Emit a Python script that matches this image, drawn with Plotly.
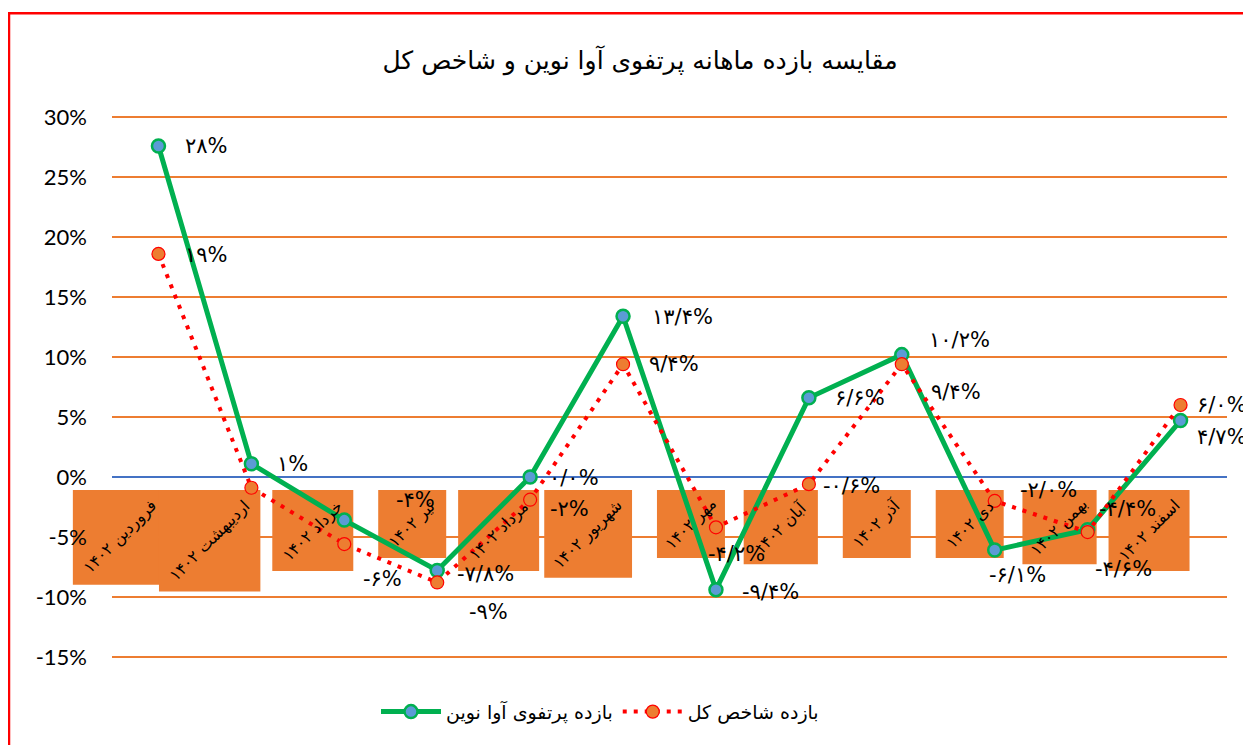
import plotly.graph_objects as go

# ---------------- data ----------------
months = ["فروردین ۱۴۰۲", "اردیبهشت ۱۴۰۲", "خرداد ۱۴۰۲", "تیر ۱۴۰۲", "مرداد ۱۴۰۲",
          "شهریور ۱۴۰۲", "مهر ۱۴۰۲", "آبان ۱۴۰۲", "آذر ۱۴۰۲", "دی ۱۴۰۲",
          "بهمن ۱۴۰۲", "اسفند ۱۴۰۲"]
portfolio = [27.6, 1.1, -3.6, -7.8, 0.0, 13.4, -9.4, 6.6, 10.2, -6.1, -4.4, 4.7]
index_ret = [18.6, -0.9, -5.6, -8.8, -1.9, 9.4, -4.2, -0.6, 9.4, -2.0, -4.6, 6.0]
portfolio_labels = ["۲۸%", "۱%", "-۴%", "-۷/۸%", "۰/۰%", "۱۳/۴%", "-۹/۴%",
                    "۶/۶%", "۱۰/۲%", "-۶/۱%", "-۴/۴%", "۴/۷%"]
index_labels = ["۱۹%", "", "-۶%", "-۹%", "-۲%", "۹/۴%", "-۴/۲%",
                "-۰/۶%", "۹/۴%", "-۲/۰%", "-۴/۶%", "۶/۰%"]
y_ticks = [-15, -10, -5, 0, 5, 10, 15, 20, 25, 30]
title_text = "مقایسه بازده ماهانه پرتفوی آوا نوین و شاخص کل"
portfolio_name = "بازده پرتفوی آوا نوین"
index_name = "بازده شاخص کل"

# ---------------- style / layout ----------------
FA_FONT = "DejaVu Sans"
NUM_FONT = "Lato"
ORANGE = "#ED7D31"
GREEN = "#00B050"
BLUE = "#5B9BD5"
RED = "#FF0000"

W, H = 1251, 745
OFF = 8                     # page offset of the plot div
PX_PER_PCT = 12.0
PAD = 0.1                   # small range padding so edge gridlines are drawn
Y_LO, Y_HI = -15 - PAD, 30 + PAD
PL, PR = 112, 1227
PT = 117 - PAD * PX_PER_PCT
PB = 657 + PAD * PX_PER_PCT
PW, PH = PR - PL, PB - PT

# pixel offsets of the data labels relative to their points (dx, dy up)
portfolio_label_off = [(25, 0), (24, 0), (50, 20), (18, -4), (17, -1), (27, -1),
                       (24, -2), (24, 0), (25, 15), (-8, -25), (9, 21), (14, -16)]
index_label_off = [(25, -1), (0, 0), (17, -35), (30, -30), (18, -9), (24, 0),
                   (-10, -27), (12, -2), (27, -28), (23, 11), (5, -37), (14, 0)]

x = list(range(len(months)))
n = len(months)

fig = go.Figure()

fig.add_trace(go.Scatter(
    x=x, y=portfolio, mode="lines+markers", name=portfolio_name,
    line=dict(color=GREEN, width=5),
    marker=dict(size=13, color=BLUE, line=dict(color=GREEN, width=2.5)),
    hoverinfo="skip",
))
fig.add_trace(go.Scatter(
    x=x, y=index_ret, mode="lines+markers", name=index_name,
    line=dict(color=RED, width=4, dash="4px,7px"),
    marker=dict(size=13, color=ORANGE, line=dict(color=RED, width=1.2)),
    hoverinfo="skip",
))

shapes = []
annotations = []

# orange category label boxes (not clipped to plot area -> paper coords)
box_top = (-1.1 - Y_LO) / (Y_HI - Y_LO)
for i, m in enumerate(months):
    s = max(68, 6.8 * len(m) + 13)
    cx = (i + 0.5) / n * PW
    right = cx + 9
    shapes.append(dict(
        type="rect", layer="between", xref="paper", yref="paper",
        x0=(right - s) / PW, x1=right / PW,
        y0=box_top - s / PH, y1=box_top,
        fillcolor=ORANGE, line=dict(width=0),
    ))
    annotations.append(dict(
        x=(right - s / 2) / PW, y=box_top - s / 2 / PH, xref="paper", yref="paper",
        text=m, showarrow=False, textangle=-45,
        xanchor="center", yanchor="middle",
        font=dict(family=FA_FONT, size=16, color="black"),
    ))

# data labels
for vals, labs, offs in ((portfolio, portfolio_labels, portfolio_label_off),
                         (index_ret, index_labels, index_label_off)):
    for i, (v, t, (dx, dy)) in enumerate(zip(vals, labs, offs)):
        if not t:
            continue
        annotations.append(dict(
            x=i, y=v, xref="x", yref="y", xshift=dx, yshift=dy,
            text=t, showarrow=False, xanchor="left", yanchor="middle",
            font=dict(family=FA_FONT, size=21, color="black"),
        ))

# red chart border (left / top visible)
shapes.append(dict(
    type="rect", xref="paper", yref="paper", layer="above",
    x0=(9 - PL) / PW, x1=1.2, y0=-0.5, y1=(PB - 13) / PH,
    line=dict(color=RED, width=2.5), fillcolor="rgba(0,0,0,0)",
))

fig.update_layout(
    width=W, height=H,
    margin=dict(l=PL - OFF, r=W - (PR - OFF), t=PT - OFF, b=H - (PB - OFF)),
    paper_bgcolor="white", plot_bgcolor="white",
    title=dict(text=title_text, x=(640 - OFF) / W, xref="container", xanchor="center",
               y=1 - (60 - OFF) / H, yref="container", yanchor="middle",
               font=dict(family=FA_FONT, size=25, color="black")),
    showlegend=True,
    legend=dict(orientation="h", x=(600 - PL) / PW, xanchor="center",
                y=(PB - 712) / PH, yanchor="middle",
                font=dict(family=FA_FONT, size=19, color="black"),
                itemwidth=60, bgcolor="rgba(0,0,0,0)"),
    shapes=shapes, annotations=annotations,
)
fig.update_xaxes(range=[-0.5, n - 0.5], showgrid=False, zeroline=False,
                 showticklabels=False, showline=False, fixedrange=True)
fig.update_yaxes(range=[Y_LO, Y_HI], tickvals=y_ticks,
                 ticktext=[f"{v}%" for v in y_ticks],
                 showgrid=True, gridcolor=ORANGE, gridwidth=2,
                 zeroline=True, zerolinecolor="#4472C4", zerolinewidth=2,
                 showline=False, ticks="", ticklabelstandoff=24,
                 tickfont=dict(family=NUM_FONT, size=22, color="black"),
                 fixedrange=True)

fig.write_html("out.html")
